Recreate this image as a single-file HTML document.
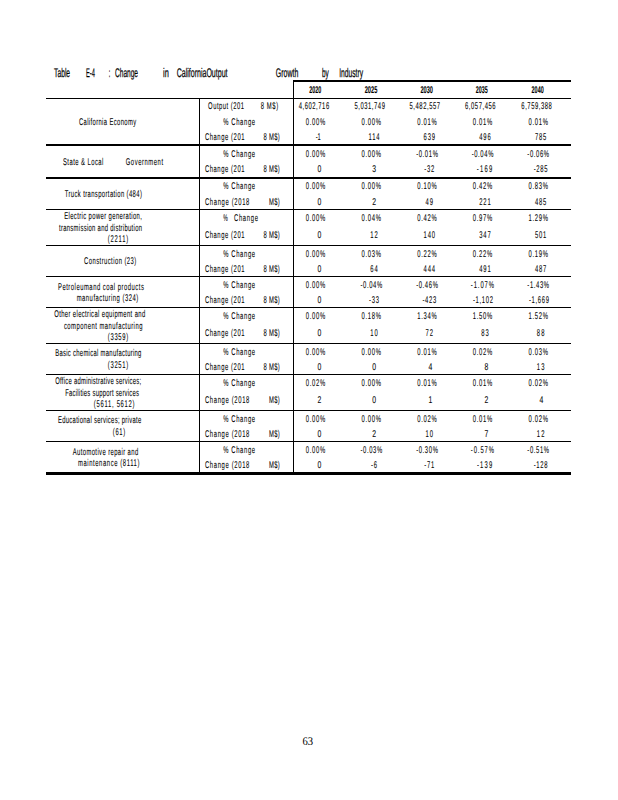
<!DOCTYPE html>
<html><head><meta charset="utf-8"><title>Table E-4</title>
<style>
html,body{margin:0;padding:0;background:#fff;}
body{width:618px;height:800px;overflow:hidden;position:relative;}
svg{position:absolute;left:0;top:0;}
svg text{font-family:"Liberation Sans",Arial,sans-serif;fill:#000;text-rendering:geometricPrecision;}
svg g.d text{stroke:#000;stroke-width:0.08px;}
svg text.b{font-weight:bold;}
svg g.d text.t{stroke:#000;stroke-width:0.25px;}
svg text.pg{font-family:"Liberation Serif","Times New Roman",serif;}
</style></head><body>
<svg width="618" height="800" viewBox="0 0 618 800">
<g fill="#000" class="d">
<rect x="293" y="80" width="278" height="2"/>
<rect x="46" y="98" width="525" height="1"/>
<rect x="46" y="144" width="525" height="2"/>
<rect x="46" y="177" width="525" height="2"/>
<rect x="46" y="209" width="525" height="1"/>
<rect x="46" y="245" width="525" height="1"/>
<rect x="46" y="276" width="525" height="1"/>
<rect x="46" y="307" width="525" height="1"/>
<rect x="46" y="343" width="525" height="1"/>
<rect x="46" y="374" width="525" height="1"/>
<rect x="46" y="410" width="525" height="1"/>
<rect x="46" y="441" width="525" height="1"/>
<rect x="46" y="472" width="525" height="3"/>
<rect x="199" y="98" width="1" height="374"/>
<rect x="293" y="80" width="1" height="392"/>
<text x="54.10" y="77.00" font-size="12.5" textLength="16.00" lengthAdjust="spacingAndGlyphs" class="t">Table</text>
<text x="86.00" y="77.00" font-size="12.5" textLength="8.90" lengthAdjust="spacingAndGlyphs" class="t">E-4</text>
<text x="108.70" y="77.00" font-size="12.5" textLength="1.50" lengthAdjust="spacingAndGlyphs" class="t">:</text>
<text x="115.00" y="77.00" font-size="12.5" textLength="23.00" lengthAdjust="spacingAndGlyphs" class="t">Change</text>
<text x="163.00" y="77.00" font-size="12.5" textLength="5.70" lengthAdjust="spacingAndGlyphs" class="t">in</text>
<text x="176.70" y="77.00" font-size="12.5" textLength="50.80" lengthAdjust="spacingAndGlyphs" class="t">CaliforniaOutput</text>
<text x="275.80" y="77.00" font-size="12.5" textLength="22.50" lengthAdjust="spacingAndGlyphs" class="t">Growth</text>
<text x="322.00" y="77.00" font-size="12.5" textLength="6.80" lengthAdjust="spacingAndGlyphs" class="t">by</text>
<text x="339.20" y="77.00" font-size="12.5" textLength="23.80" lengthAdjust="spacingAndGlyphs" class="t">Industry</text>
<text x="309.30" y="93.00" font-size="9.8" textLength="12.10" lengthAdjust="spacingAndGlyphs" class="b">2020</text>
<text x="364.70" y="93.00" font-size="9.8" textLength="12.60" lengthAdjust="spacingAndGlyphs" class="b">2025</text>
<text x="420.40" y="93.00" font-size="9.8" textLength="12.60" lengthAdjust="spacingAndGlyphs" class="b">2030</text>
<text x="475.70" y="93.00" font-size="9.8" textLength="12.00" lengthAdjust="spacingAndGlyphs" class="b">2035</text>
<text x="531.60" y="93.00" font-size="9.8" textLength="12.10" lengthAdjust="spacingAndGlyphs" class="b">2040</text>
<text transform="translate(298.64 109.00) scale(0.6 1)" font-size="9.8" textLength="50.86" lengthAdjust="spacing">4,602,716</text>
<text transform="translate(354.44 109.00) scale(0.6 1)" font-size="9.8" textLength="50.86" lengthAdjust="spacing">5,031,749</text>
<text transform="translate(409.54 109.00) scale(0.6 1)" font-size="9.8" textLength="50.86" lengthAdjust="spacing">5,482,557</text>
<text transform="translate(465.04 109.00) scale(0.6 1)" font-size="9.8" textLength="50.86" lengthAdjust="spacing">6,057,456</text>
<text transform="translate(521.34 109.00) scale(0.6 1)" font-size="9.8" textLength="50.86" lengthAdjust="spacing">6,759,388</text>
<text transform="translate(208.10 109.00) scale(0.6 1)" font-size="9.8" textLength="59.83" lengthAdjust="spacing">Output (201</text>
<text transform="translate(260.70 109.00) scale(0.6 1)" font-size="9.8" textLength="29.17" lengthAdjust="spacing">8 M$)</text>
<text transform="translate(305.77 125.10) scale(0.6 1)" font-size="9.8" textLength="32.42" lengthAdjust="spacing">0.00%</text>
<text x="315.70" y="140.20" font-size="9.8" textLength="5.10" lengthAdjust="spacingAndGlyphs">-1</text>
<text transform="translate(361.57 125.10) scale(0.6 1)" font-size="9.8" textLength="32.42" lengthAdjust="spacing">0.00%</text>
<text transform="translate(368.53 140.20) scale(0.6 1)" font-size="9.8" textLength="18.23" lengthAdjust="spacing">114</text>
<text transform="translate(417.27 125.10) scale(0.6 1)" font-size="9.8" textLength="32.42" lengthAdjust="spacing">0.01%</text>
<text transform="translate(423.58 140.20) scale(0.6 1)" font-size="9.8" textLength="19.07" lengthAdjust="spacing">639</text>
<text transform="translate(472.77 125.10) scale(0.6 1)" font-size="9.8" textLength="32.42" lengthAdjust="spacing">0.01%</text>
<text transform="translate(479.28 140.20) scale(0.6 1)" font-size="9.8" textLength="19.07" lengthAdjust="spacing">496</text>
<text transform="translate(528.47 125.10) scale(0.6 1)" font-size="9.8" textLength="32.42" lengthAdjust="spacing">0.01%</text>
<text transform="translate(534.88 140.20) scale(0.6 1)" font-size="9.8" textLength="19.07" lengthAdjust="spacing">785</text>
<text transform="translate(223.20 125.10) scale(0.6 1)" font-size="9.8" textLength="53.17" lengthAdjust="spacing">% Change</text>
<text transform="translate(204.90 140.20) scale(0.6 1)" font-size="9.8" textLength="66.00" lengthAdjust="spacing">Change (201</text>
<text transform="translate(263.60 140.20) scale(0.6 1)" font-size="9.8" textLength="27.00" lengthAdjust="spacing">8 M$)</text>
<text transform="translate(305.77 157.30) scale(0.6 1)" font-size="9.8" textLength="32.42" lengthAdjust="spacing">0.00%</text>
<text x="317.49" y="171.50" font-size="9.8" textLength="3.81" lengthAdjust="spacingAndGlyphs">0</text>
<text transform="translate(361.57 157.30) scale(0.6 1)" font-size="9.8" textLength="32.42" lengthAdjust="spacing">0.00%</text>
<text x="372.29" y="171.50" font-size="9.8" textLength="3.81" lengthAdjust="spacingAndGlyphs">3</text>
<text transform="translate(416.13 157.30) scale(0.6 1)" font-size="9.8" textLength="36.22" lengthAdjust="spacing">-0.01%</text>
<text transform="translate(424.34 171.50) scale(0.6 1)" font-size="9.8" textLength="16.52" lengthAdjust="spacing">-32</text>
<text transform="translate(471.63 157.30) scale(0.6 1)" font-size="9.8" textLength="36.22" lengthAdjust="spacing">-0.04%</text>
<text transform="translate(476.70 171.50) scale(0.6 1)" font-size="9.8" textLength="25.83" lengthAdjust="spacing">-169</text>
<text transform="translate(527.33 157.30) scale(0.6 1)" font-size="9.8" textLength="36.22" lengthAdjust="spacing">-0.06%</text>
<text transform="translate(533.74 171.50) scale(0.6 1)" font-size="9.8" textLength="22.88" lengthAdjust="spacing">-285</text>
<text transform="translate(223.20 157.30) scale(0.6 1)" font-size="9.8" textLength="53.17" lengthAdjust="spacing">% Change</text>
<text transform="translate(204.90 171.50) scale(0.6 1)" font-size="9.8" textLength="66.00" lengthAdjust="spacing">Change (201</text>
<text transform="translate(263.60 171.50) scale(0.6 1)" font-size="9.8" textLength="27.00" lengthAdjust="spacing">8 M$)</text>
<text transform="translate(305.77 189.30) scale(0.6 1)" font-size="9.8" textLength="32.42" lengthAdjust="spacing">0.00%</text>
<text x="317.49" y="204.90" font-size="9.8" textLength="3.81" lengthAdjust="spacingAndGlyphs">0</text>
<text transform="translate(361.57 189.30) scale(0.6 1)" font-size="9.8" textLength="32.42" lengthAdjust="spacing">0.00%</text>
<text x="372.29" y="204.90" font-size="9.8" textLength="3.81" lengthAdjust="spacingAndGlyphs">2</text>
<text transform="translate(417.27 189.30) scale(0.6 1)" font-size="9.8" textLength="32.42" lengthAdjust="spacing">0.10%</text>
<text transform="translate(425.49 204.90) scale(0.6 1)" font-size="9.8" textLength="12.72" lengthAdjust="spacing">49</text>
<text transform="translate(472.77 189.30) scale(0.6 1)" font-size="9.8" textLength="32.42" lengthAdjust="spacing">0.42%</text>
<text transform="translate(479.28 204.90) scale(0.6 1)" font-size="9.8" textLength="19.07" lengthAdjust="spacing">221</text>
<text transform="translate(528.47 189.30) scale(0.6 1)" font-size="9.8" textLength="32.42" lengthAdjust="spacing">0.83%</text>
<text transform="translate(534.88 204.90) scale(0.6 1)" font-size="9.8" textLength="19.07" lengthAdjust="spacing">485</text>
<text transform="translate(223.20 189.30) scale(0.6 1)" font-size="9.8" textLength="53.17" lengthAdjust="spacing">% Change</text>
<text transform="translate(204.90 204.90) scale(0.6 1)" font-size="9.8" textLength="74.17" lengthAdjust="spacing">Change (2018</text>
<text transform="translate(269.10 204.90) scale(0.6 1)" font-size="9.8" textLength="17.83" lengthAdjust="spacing">M$)</text>
<text transform="translate(305.77 221.30) scale(0.6 1)" font-size="9.8" textLength="32.42" lengthAdjust="spacing">0.00%</text>
<text x="317.49" y="238.30" font-size="9.8" textLength="3.81" lengthAdjust="spacingAndGlyphs">0</text>
<text transform="translate(361.57 221.30) scale(0.6 1)" font-size="9.8" textLength="32.42" lengthAdjust="spacing">0.04%</text>
<text transform="translate(370.19 238.30) scale(0.6 1)" font-size="9.8" textLength="12.72" lengthAdjust="spacing">12</text>
<text transform="translate(417.27 221.30) scale(0.6 1)" font-size="9.8" textLength="32.42" lengthAdjust="spacing">0.42%</text>
<text transform="translate(423.58 238.30) scale(0.6 1)" font-size="9.8" textLength="19.07" lengthAdjust="spacing">140</text>
<text transform="translate(472.77 221.30) scale(0.6 1)" font-size="9.8" textLength="32.42" lengthAdjust="spacing">0.97%</text>
<text transform="translate(479.28 238.30) scale(0.6 1)" font-size="9.8" textLength="19.07" lengthAdjust="spacing">347</text>
<text transform="translate(528.47 221.30) scale(0.6 1)" font-size="9.8" textLength="32.42" lengthAdjust="spacing">1.29%</text>
<text transform="translate(534.88 238.30) scale(0.6 1)" font-size="9.8" textLength="19.07" lengthAdjust="spacing">501</text>
<text x="223.20" y="221.30" font-size="9.8" textLength="4.50" lengthAdjust="spacingAndGlyphs">%</text>
<text transform="translate(234.00 221.30) scale(0.6 1)" font-size="9.8" textLength="40.00" lengthAdjust="spacing">Change</text>
<text transform="translate(204.90 238.30) scale(0.6 1)" font-size="9.8" textLength="66.00" lengthAdjust="spacing">Change (201</text>
<text transform="translate(263.60 238.30) scale(0.6 1)" font-size="9.8" textLength="27.00" lengthAdjust="spacing">8 M$)</text>
<text transform="translate(305.77 257.00) scale(0.6 1)" font-size="9.8" textLength="32.42" lengthAdjust="spacing">0.00%</text>
<text x="317.49" y="272.00" font-size="9.8" textLength="3.81" lengthAdjust="spacingAndGlyphs">0</text>
<text transform="translate(361.57 257.00) scale(0.6 1)" font-size="9.8" textLength="32.42" lengthAdjust="spacing">0.03%</text>
<text transform="translate(370.19 272.00) scale(0.6 1)" font-size="9.8" textLength="12.72" lengthAdjust="spacing">64</text>
<text transform="translate(417.27 257.00) scale(0.6 1)" font-size="9.8" textLength="32.42" lengthAdjust="spacing">0.22%</text>
<text transform="translate(423.58 272.00) scale(0.6 1)" font-size="9.8" textLength="19.07" lengthAdjust="spacing">444</text>
<text transform="translate(472.77 257.00) scale(0.6 1)" font-size="9.8" textLength="32.42" lengthAdjust="spacing">0.22%</text>
<text transform="translate(479.28 272.00) scale(0.6 1)" font-size="9.8" textLength="19.07" lengthAdjust="spacing">491</text>
<text transform="translate(528.47 257.00) scale(0.6 1)" font-size="9.8" textLength="32.42" lengthAdjust="spacing">0.19%</text>
<text transform="translate(534.88 272.00) scale(0.6 1)" font-size="9.8" textLength="19.07" lengthAdjust="spacing">487</text>
<text transform="translate(223.20 257.00) scale(0.6 1)" font-size="9.8" textLength="53.17" lengthAdjust="spacing">% Change</text>
<text transform="translate(204.90 272.00) scale(0.6 1)" font-size="9.8" textLength="66.00" lengthAdjust="spacing">Change (201</text>
<text transform="translate(263.60 272.00) scale(0.6 1)" font-size="9.8" textLength="27.00" lengthAdjust="spacing">8 M$)</text>
<text transform="translate(305.77 287.90) scale(0.6 1)" font-size="9.8" textLength="32.42" lengthAdjust="spacing">0.00%</text>
<text x="317.49" y="303.30" font-size="9.8" textLength="3.81" lengthAdjust="spacingAndGlyphs">0</text>
<text transform="translate(360.43 287.90) scale(0.6 1)" font-size="9.8" textLength="36.22" lengthAdjust="spacing">-0.04%</text>
<text transform="translate(369.04 303.30) scale(0.6 1)" font-size="9.8" textLength="16.52" lengthAdjust="spacing">-33</text>
<text transform="translate(416.13 287.90) scale(0.6 1)" font-size="9.8" textLength="36.22" lengthAdjust="spacing">-0.46%</text>
<text transform="translate(422.44 303.30) scale(0.6 1)" font-size="9.8" textLength="22.88" lengthAdjust="spacing">-423</text>
<text transform="translate(470.80 287.90) scale(0.6 1)" font-size="9.8" textLength="38.67" lengthAdjust="spacing">-1.07%</text>
<text transform="translate(473.00 303.30) scale(0.6 1)" font-size="9.8" textLength="33.33" lengthAdjust="spacing">-1,102</text>
<text transform="translate(527.33 287.90) scale(0.6 1)" font-size="9.8" textLength="36.22" lengthAdjust="spacing">-1.43%</text>
<text transform="translate(529.00 303.30) scale(0.6 1)" font-size="9.8" textLength="33.33" lengthAdjust="spacing">-1,669</text>
<text transform="translate(223.20 287.90) scale(0.6 1)" font-size="9.8" textLength="53.17" lengthAdjust="spacing">% Change</text>
<text transform="translate(204.90 303.30) scale(0.6 1)" font-size="9.8" textLength="66.00" lengthAdjust="spacing">Change (201</text>
<text transform="translate(263.60 303.30) scale(0.6 1)" font-size="9.8" textLength="27.00" lengthAdjust="spacing">8 M$)</text>
<text transform="translate(305.77 319.10) scale(0.6 1)" font-size="9.8" textLength="32.42" lengthAdjust="spacing">0.00%</text>
<text x="317.49" y="336.10" font-size="9.8" textLength="3.81" lengthAdjust="spacingAndGlyphs">0</text>
<text transform="translate(361.57 319.10) scale(0.6 1)" font-size="9.8" textLength="32.42" lengthAdjust="spacing">0.18%</text>
<text transform="translate(370.19 336.10) scale(0.6 1)" font-size="9.8" textLength="12.72" lengthAdjust="spacing">10</text>
<text transform="translate(417.27 319.10) scale(0.6 1)" font-size="9.8" textLength="32.42" lengthAdjust="spacing">1.34%</text>
<text transform="translate(425.49 336.10) scale(0.6 1)" font-size="9.8" textLength="12.72" lengthAdjust="spacing">72</text>
<text transform="translate(472.77 319.10) scale(0.6 1)" font-size="9.8" textLength="32.42" lengthAdjust="spacing">1.50%</text>
<text transform="translate(481.19 336.10) scale(0.6 1)" font-size="9.8" textLength="12.72" lengthAdjust="spacing">83</text>
<text transform="translate(528.47 319.10) scale(0.6 1)" font-size="9.8" textLength="32.42" lengthAdjust="spacing">1.52%</text>
<text transform="translate(536.79 336.10) scale(0.6 1)" font-size="9.8" textLength="12.72" lengthAdjust="spacing">88</text>
<text transform="translate(223.20 319.10) scale(0.6 1)" font-size="9.8" textLength="53.17" lengthAdjust="spacing">% Change</text>
<text transform="translate(204.90 336.10) scale(0.6 1)" font-size="9.8" textLength="66.00" lengthAdjust="spacing">Change (201</text>
<text transform="translate(263.60 336.10) scale(0.6 1)" font-size="9.8" textLength="27.00" lengthAdjust="spacing">8 M$)</text>
<text transform="translate(305.77 354.80) scale(0.6 1)" font-size="9.8" textLength="32.42" lengthAdjust="spacing">0.00%</text>
<text x="317.49" y="370.30" font-size="9.8" textLength="3.81" lengthAdjust="spacingAndGlyphs">0</text>
<text transform="translate(361.57 354.80) scale(0.6 1)" font-size="9.8" textLength="32.42" lengthAdjust="spacing">0.00%</text>
<text x="372.29" y="370.30" font-size="9.8" textLength="3.81" lengthAdjust="spacingAndGlyphs">0</text>
<text transform="translate(417.27 354.80) scale(0.6 1)" font-size="9.8" textLength="32.42" lengthAdjust="spacing">0.01%</text>
<text x="428.39" y="370.30" font-size="9.8" textLength="3.81" lengthAdjust="spacingAndGlyphs">4</text>
<text transform="translate(472.77 354.80) scale(0.6 1)" font-size="9.8" textLength="32.42" lengthAdjust="spacing">0.02%</text>
<text x="484.39" y="370.30" font-size="9.8" textLength="3.81" lengthAdjust="spacingAndGlyphs">8</text>
<text transform="translate(528.47 354.80) scale(0.6 1)" font-size="9.8" textLength="32.42" lengthAdjust="spacing">0.03%</text>
<text transform="translate(536.79 370.30) scale(0.6 1)" font-size="9.8" textLength="12.72" lengthAdjust="spacing">13</text>
<text transform="translate(223.20 354.80) scale(0.6 1)" font-size="9.8" textLength="53.17" lengthAdjust="spacing">% Change</text>
<text transform="translate(204.90 370.30) scale(0.6 1)" font-size="9.8" textLength="66.00" lengthAdjust="spacing">Change (201</text>
<text transform="translate(263.60 370.30) scale(0.6 1)" font-size="9.8" textLength="27.00" lengthAdjust="spacing">8 M$)</text>
<text transform="translate(305.77 386.00) scale(0.6 1)" font-size="9.8" textLength="32.42" lengthAdjust="spacing">0.02%</text>
<text x="317.49" y="402.80" font-size="9.8" textLength="3.81" lengthAdjust="spacingAndGlyphs">2</text>
<text transform="translate(361.57 386.00) scale(0.6 1)" font-size="9.8" textLength="32.42" lengthAdjust="spacing">0.00%</text>
<text x="372.29" y="402.80" font-size="9.8" textLength="3.81" lengthAdjust="spacingAndGlyphs">0</text>
<text transform="translate(417.27 386.00) scale(0.6 1)" font-size="9.8" textLength="32.42" lengthAdjust="spacing">0.01%</text>
<text x="428.39" y="402.80" font-size="9.8" textLength="3.81" lengthAdjust="spacingAndGlyphs">1</text>
<text transform="translate(472.77 386.00) scale(0.6 1)" font-size="9.8" textLength="32.42" lengthAdjust="spacing">0.01%</text>
<text x="484.39" y="402.80" font-size="9.8" textLength="3.81" lengthAdjust="spacingAndGlyphs">2</text>
<text transform="translate(528.47 386.00) scale(0.6 1)" font-size="9.8" textLength="32.42" lengthAdjust="spacing">0.02%</text>
<text x="539.59" y="402.80" font-size="9.8" textLength="3.81" lengthAdjust="spacingAndGlyphs">4</text>
<text transform="translate(223.20 386.00) scale(0.6 1)" font-size="9.8" textLength="53.17" lengthAdjust="spacing">% Change</text>
<text transform="translate(204.90 402.80) scale(0.6 1)" font-size="9.8" textLength="74.17" lengthAdjust="spacing">Change (2018</text>
<text transform="translate(269.10 402.80) scale(0.6 1)" font-size="9.8" textLength="17.83" lengthAdjust="spacing">M$)</text>
<text transform="translate(305.77 422.00) scale(0.6 1)" font-size="9.8" textLength="32.42" lengthAdjust="spacing">0.00%</text>
<text x="317.49" y="437.10" font-size="9.8" textLength="3.81" lengthAdjust="spacingAndGlyphs">0</text>
<text transform="translate(361.57 422.00) scale(0.6 1)" font-size="9.8" textLength="32.42" lengthAdjust="spacing">0.00%</text>
<text x="372.29" y="437.10" font-size="9.8" textLength="3.81" lengthAdjust="spacingAndGlyphs">2</text>
<text transform="translate(417.27 422.00) scale(0.6 1)" font-size="9.8" textLength="32.42" lengthAdjust="spacing">0.02%</text>
<text transform="translate(425.49 437.10) scale(0.6 1)" font-size="9.8" textLength="12.72" lengthAdjust="spacing">10</text>
<text transform="translate(472.77 422.00) scale(0.6 1)" font-size="9.8" textLength="32.42" lengthAdjust="spacing">0.01%</text>
<text x="484.39" y="437.10" font-size="9.8" textLength="3.81" lengthAdjust="spacingAndGlyphs">7</text>
<text transform="translate(528.47 422.00) scale(0.6 1)" font-size="9.8" textLength="32.42" lengthAdjust="spacing">0.02%</text>
<text transform="translate(536.79 437.10) scale(0.6 1)" font-size="9.8" textLength="12.72" lengthAdjust="spacing">12</text>
<text transform="translate(223.20 422.00) scale(0.6 1)" font-size="9.8" textLength="53.17" lengthAdjust="spacing">% Change</text>
<text transform="translate(204.90 437.10) scale(0.6 1)" font-size="9.8" textLength="74.17" lengthAdjust="spacing">Change (2018</text>
<text transform="translate(269.10 437.10) scale(0.6 1)" font-size="9.8" textLength="17.83" lengthAdjust="spacing">M$)</text>
<text transform="translate(305.77 453.40) scale(0.6 1)" font-size="9.8" textLength="32.42" lengthAdjust="spacing">0.00%</text>
<text x="317.49" y="468.10" font-size="9.8" textLength="3.81" lengthAdjust="spacingAndGlyphs">0</text>
<text transform="translate(360.43 453.40) scale(0.6 1)" font-size="9.8" textLength="36.22" lengthAdjust="spacing">-0.03%</text>
<text transform="translate(370.95 468.10) scale(0.6 1)" font-size="9.8" textLength="10.16" lengthAdjust="spacing">-6</text>
<text transform="translate(416.13 453.40) scale(0.6 1)" font-size="9.8" textLength="36.22" lengthAdjust="spacing">-0.30%</text>
<text transform="translate(424.34 468.10) scale(0.6 1)" font-size="9.8" textLength="16.52" lengthAdjust="spacing">-71</text>
<text transform="translate(470.80 453.40) scale(0.6 1)" font-size="9.8" textLength="38.67" lengthAdjust="spacing">-0.57%</text>
<text transform="translate(476.90 468.10) scale(0.6 1)" font-size="9.8" textLength="25.67" lengthAdjust="spacing">-139</text>
<text transform="translate(527.33 453.40) scale(0.6 1)" font-size="9.8" textLength="36.22" lengthAdjust="spacing">-0.51%</text>
<text transform="translate(533.74 468.10) scale(0.6 1)" font-size="9.8" textLength="22.88" lengthAdjust="spacing">-128</text>
<text transform="translate(223.20 453.40) scale(0.6 1)" font-size="9.8" textLength="53.17" lengthAdjust="spacing">% Change</text>
<text transform="translate(204.90 468.10) scale(0.6 1)" font-size="9.8" textLength="74.17" lengthAdjust="spacing">Change (2018</text>
<text transform="translate(269.10 468.10) scale(0.6 1)" font-size="9.8" textLength="17.83" lengthAdjust="spacing">M$)</text>
<text transform="translate(78.90 124.80) scale(0.6 1)" font-size="9.8" textLength="95.50" lengthAdjust="spacing">California Economy</text>
<text transform="translate(63.00 164.90) scale(0.6 1)" font-size="9.8" textLength="67.17" lengthAdjust="spacing">State &amp; Local</text>
<text transform="translate(125.70 164.90) scale(0.6 1)" font-size="9.8" textLength="62.33" lengthAdjust="spacing">Government</text>
<text transform="translate(64.70 196.80) scale(0.6 1)" font-size="9.8" textLength="128.67" lengthAdjust="spacing">Truck transportation (484)</text>
<text transform="translate(64.20 218.90) scale(0.6 1)" font-size="9.8" textLength="129.50" lengthAdjust="spacing">Electric power generation,</text>
<text transform="translate(59.00 230.80) scale(0.6 1)" font-size="9.8" textLength="138.33" lengthAdjust="spacing">transmission and distribution</text>
<text transform="translate(107.80 241.60) scale(0.6 1)" font-size="9.8" textLength="34.00" lengthAdjust="spacing">(2211)</text>
<text transform="translate(84.10 264.00) scale(0.6 1)" font-size="9.8" textLength="86.83" lengthAdjust="spacing">Construction (23)</text>
<text transform="translate(58.00 290.10) scale(0.6 1)" font-size="9.8" textLength="143.17" lengthAdjust="spacing">Petroleumand coal products</text>
<text transform="translate(76.70 300.60) scale(0.6 1)" font-size="9.8" textLength="102.50" lengthAdjust="spacing">manufacturing (324)</text>
<text transform="translate(54.20 317.00) scale(0.6 1)" font-size="9.8" textLength="151.67" lengthAdjust="spacing">Other electrical equipment and</text>
<text transform="translate(63.90 328.90) scale(0.6 1)" font-size="9.8" textLength="130.83" lengthAdjust="spacing">component manufacturing</text>
<text transform="translate(107.80 339.60) scale(0.6 1)" font-size="9.8" textLength="34.00" lengthAdjust="spacing">(3359)</text>
<text transform="translate(55.20 355.80) scale(0.6 1)" font-size="9.8" textLength="143.67" lengthAdjust="spacing">Basic chemical manufacturing</text>
<text transform="translate(107.80 368.10) scale(0.6 1)" font-size="9.8" textLength="34.00" lengthAdjust="spacing">(3251)</text>
<text transform="translate(55.20 384.20) scale(0.6 1)" font-size="9.8" textLength="143.33" lengthAdjust="spacing">Office administrative services;</text>
<text transform="translate(65.20 395.90) scale(0.6 1)" font-size="9.8" textLength="123.00" lengthAdjust="spacing">Facilities support services</text>
<text transform="translate(93.80 406.90) scale(0.6 1)" font-size="9.8" textLength="67.83" lengthAdjust="spacing">(5611, 5612)</text>
<text transform="translate(58.00 422.80) scale(0.6 1)" font-size="9.8" textLength="138.67" lengthAdjust="spacing">Educational services; private</text>
<text transform="translate(112.80 434.80) scale(0.6 1)" font-size="9.8" textLength="20.67" lengthAdjust="spacing">(61)</text>
<text transform="translate(72.70 454.90) scale(0.6 1)" font-size="9.8" textLength="109.17" lengthAdjust="spacing">Automotive repair and</text>
<text transform="translate(77.90 466.10) scale(0.6 1)" font-size="9.8" textLength="102.50" lengthAdjust="spacing">maintenance (8111)</text>
</g>
<text class="pg" x="302.4" y="744.9" font-size="11.8" textLength="10.6" lengthAdjust="spacingAndGlyphs">63</text>
</svg>
</body></html>
